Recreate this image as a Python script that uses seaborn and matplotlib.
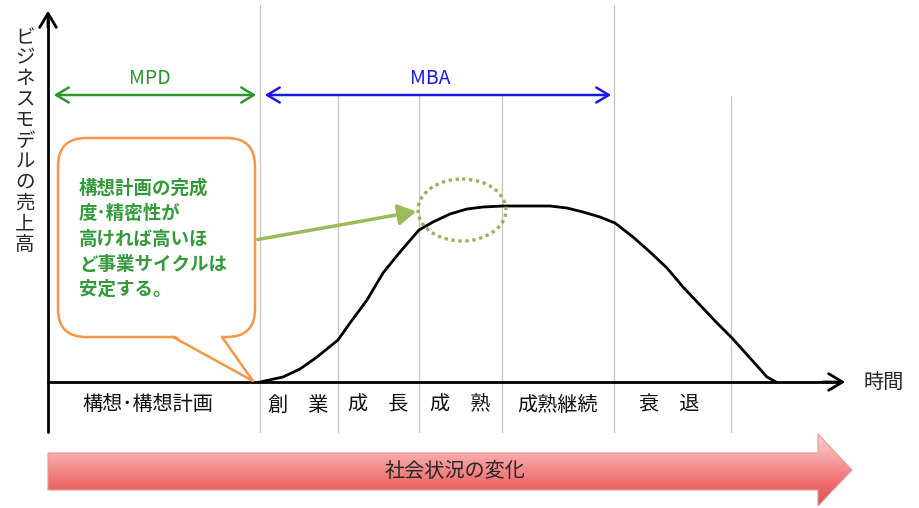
import matplotlib
matplotlib.use("Agg")
import matplotlib.pyplot as plt
import numpy as np
import seaborn as sns
from matplotlib.patches import Ellipse, FancyArrowPatch, FancyBboxPatch, Polygon
from matplotlib.colors import LinearSegmentedColormap

# Data (figure-pixel coordinates: x to the right, y downward; baseline at y=382)
curve_time = [260, 283, 300, 317, 338, 350, 367, 383, 400, 419, 433, 450, 467, 483,
              503, 525, 550, 567, 583, 600, 615, 633, 650, 667, 683, 700, 717,
              732, 750, 767, 776]
curve_sales = [382, 377, 369, 357, 340, 323, 300, 273, 252, 230, 222, 214, 209, 207,
               206, 206, 206, 208, 212, 217, 223, 237, 252, 268, 287, 305, 323,
               338, 358, 377, 382]

stage_labels = ["構想･構想計画", "創\u3000業", "成\u3000長", "成\u3000熟", "成熟継続", "衰\u3000退"]
stage_centers = [148, 298, 378, 460, 558, 669]
full_dividers = [260, 614]
short_dividers = [338, 419, 502, 731]

bubble_lines = ["構想計画の完成", "度･精密性が", "高ければ高いほ", "ど事業サイクルは", "安定する。"]
y_label = "ビジネスモデルの売上高"

sns.set_theme(style="white")
plt.rcParams["font.family"] = ["Noto Sans CJK JP", "DejaVu Sans"]

fig = plt.figure(figsize=(9.2, 5.08), dpi=100)
ax = fig.add_axes([0, 0, 1, 1])
ax.set_xlim(0, 920)
ax.set_ylim(508, 0)
ax.axis("off")

# grid dividers
for x in full_dividers:
    ax.plot([x, x], [5, 432], color="#c8c8c8", lw=1, zorder=1)
for x in short_dividers:
    ax.plot([x, x], [96, 432], color="#c8c8c8", lw=1, zorder=1)

# axes arrows
ax.plot([48, 48], [432, 20], color="black", lw=2, zorder=3)
ax.add_patch(FancyArrowPatch((48, 30), (48, 8), arrowstyle="->,head_length=0.5,head_width=0.3",
                             mutation_scale=20, lw=2, color="black", zorder=3))
ax.plot([48, 840], [382, 382], color="black", lw=2, zorder=3)
ax.add_patch(FancyArrowPatch((820, 382), (848, 382), arrowstyle="->,head_length=0.5,head_width=0.3",
                             mutation_scale=20, lw=2, color="black", zorder=3))
ax.text(884, 382, "時間", fontsize=14.5, ha="center", va="center")

# y label stacked vertically
ax.text(25, 27, "\n".join(y_label), fontsize=14, ha="center", va="top", linespacing=0.98)

# life cycle curve
sns.lineplot(x=curve_time, y=curve_sales, ax=ax, color="black", lw=2, sort=False, zorder=4)
ax.set_xlabel("")
ax.set_ylabel("")

# MPD / MBA spans
ax.add_patch(FancyArrowPatch((51, 95), (259, 95), arrowstyle="<->,head_length=0.5,head_width=0.3",
                             mutation_scale=18, lw=1.8, color="#2e952e", zorder=3))
ax.text(150, 78, "MPD", fontsize=14, color="#2e952e", ha="center", va="center")
ax.add_patch(FancyArrowPatch((262, 95), (614, 95), arrowstyle="<->,head_length=0.5,head_width=0.3",
                             mutation_scale=18, lw=1.8, color="#1a1ae6", zorder=3))
ax.text(430, 78, "MBA", fontsize=14, color="#1a1ae6", ha="center", va="center")

# dotted ellipse around plateau
ax.add_patch(Ellipse((462, 210), 88, 62, fill=False, ec="#a3ad5a", lw=2.4,
                     ls=(0, (1, 1.1)), zorder=5))

# pointer arrow from bubble
ax.add_patch(FancyArrowPatch((255, 240), (419, 211), arrowstyle="-|>,head_length=0.6,head_width=0.35",
                             mutation_scale=18, lw=2.5, color="#9bbb59", zorder=5))

# speech bubble
orange = "#f79646"
ax.add_patch(FancyBboxPatch((58, 138), 197, 199, boxstyle="round,pad=0,rounding_size=28",
                            fc="white", ec=orange, lw=1.8, zorder=6))
ax.add_patch(Polygon([(174, 335), (253, 380), (221, 335)], closed=True, fc="white", ec="none", zorder=7))
ax.plot([173, 253, 222], [337, 381, 337], color=orange, lw=1.8, zorder=7)
ax.text(79, 179, "\n".join(bubble_lines), fontsize=13.3, color="#33993a", fontweight="bold",
        ha="left", va="top", linespacing=1.42, zorder=8)

# stage labels
for label, cx in zip(stage_labels, stage_centers):
    ax.text(cx, 405, label, fontsize=14.5, ha="center", va="center", color="#111111")

# big gradient arrow for social change
arrow_pts = [(48, 453), (818, 453), (818, 434), (852, 470), (818, 506), (818, 490), (48, 490)]
arrow = Polygon(arrow_pts, closed=True, fc="none", ec="#e59a9a", lw=0.8, zorder=2)
ax.add_patch(arrow)
cmap = LinearSegmentedColormap.from_list("redgrad", ["#ffd0d0", "#f7a2a2", "#f07070", "#de5252"])
grad = np.linspace(0, 1, 200).reshape(-1, 1)
img = ax.imshow(grad, cmap=cmap, aspect="auto", extent=(48, 852, 506, 434), origin="upper", zorder=1.5)
img.set_clip_path(arrow)
ax.set_xlim(0, 920)
ax.set_ylim(508, 0)
ax.text(455, 471, "社会状況の変化", fontsize=14.5, ha="center", va="center", zorder=3)

fig.savefig("out.png", dpi=100)
